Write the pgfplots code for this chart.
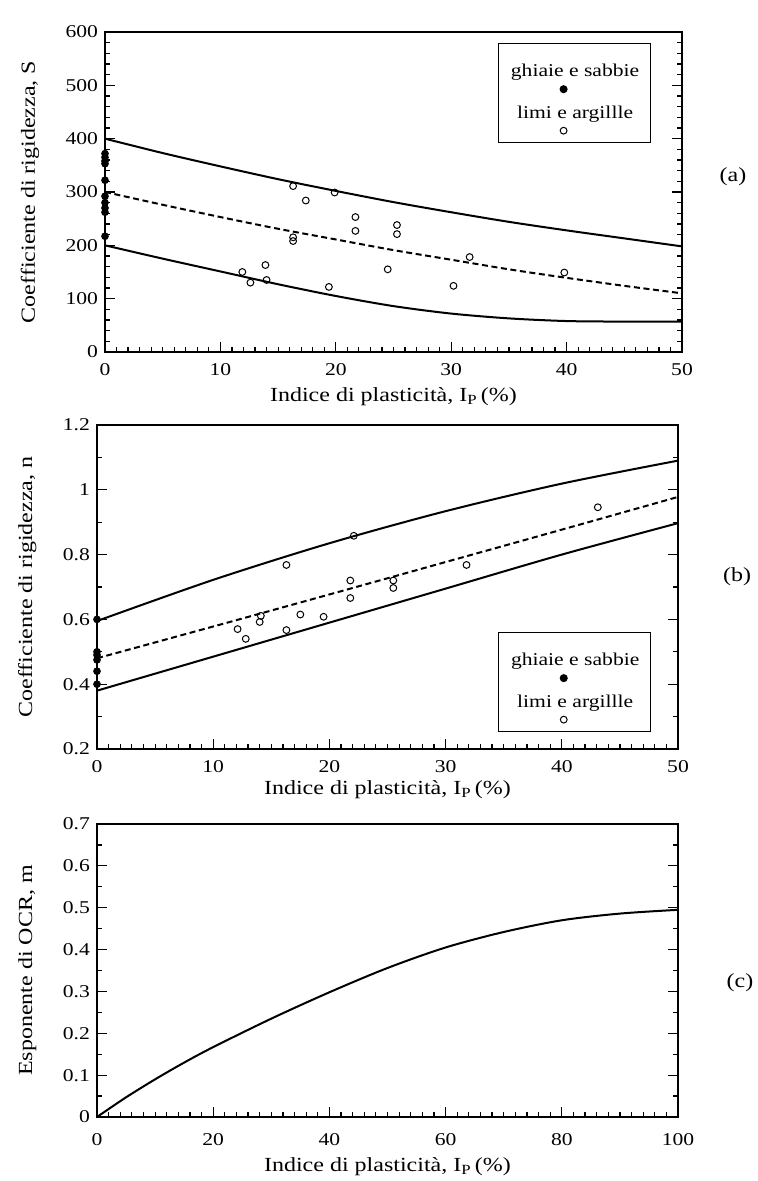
\documentclass[border=0pt]{standalone}
\usepackage{fontspec}
\setmainfont{Liberation Serif}[FakeStretch=1.2]
\usepackage{pgfplots}
\pgfplotsset{compat=1.18}

% one pixel of the reference = 0.5pt
\pgfplotsset{
  panel/.style={
    scale only axis, clip=false,
    axis line style={line width=0.9pt},
    tick align=inside, xtick pos=bottom, ytick pos=both,
    major tick length=5pt, minor tick length=2.5pt,
    every tick/.style={black, line width=0.6pt},
    /pgf/number format/assume math mode=true,
    tick label style={font=\fontsize{9}{10}\selectfont},
    label style={font=\fontsize{10}{12}\selectfont},
    xlabel={Indice di plasticità, I\textsubscript{P}\,(\%)},
    xticklabel style={yshift=-2pt},
    legend cell align=center,
    legend style={draw=black, line width=0.6pt,
      font=\fontsize{9}{11}\selectfont,
      row sep=9pt, inner ysep=8.5pt, inner xsep=3.5pt},
  },
  legmark/.style={legend image code/.code={%
      \path (0pt,0pt);
      \pgfmathsetmacro{\legx}{max(width("ghiaie e sabbie"),width("limi e argillle"))/2-7}%
      \draw[overlay,##1] plot coordinates {(\legx pt,-8.5pt)};}},
  curve/.style={black, line width=1pt, smooth, no marks},
  filled/.style={only marks, mark=*, mark size=1.7pt, black, legmark},
  hollow/.style={only marks, mark=o, mark size=1.7pt, black,
    mark options={line width=0.5pt}, legmark},
}

\begin{document}
\begin{tikzpicture}
\useasboundingbox (0,0) rectangle (378.5pt,590.5pt);

% ---------------- (a) S ----------------
\begin{axis}[panel,
  at={(52.5pt,414.5pt)}, anchor=south west,
  width=288.5pt, height=160pt,
  xmin=0, xmax=50, ymin=0, ymax=600,
  xtick={0,10,...,50}, ytick={0,100,...,600},
  minor x tick num=9, minor y tick num=4,
  ylabel={Coefficiente di rigidezza, S},
  xlabel style={at={(axis description cs:0.5,0)}, anchor=center, yshift=-22.5pt},
  ylabel style={at={(axis description cs:-0.13,0.5)}, anchor=center},
  legend style={at={(0.946,0.966)}, anchor=north east},
]
\addplot[filled] coordinates {
(0,372) (0,365) (0,358) (0,353) (0,322) (0,292) (0,280) (0,270) (0,262) (0,217)
};
\addlegendentry{ghiaie e sabbie}
\addplot[hollow] coordinates {
(16.3,311) (17.4,284) (19.9,299) (21.7,253) (21.7,227) (16.3,215) (16.3,208)
(11.9,150) (12.6,130) (13.9,163) (14.0,135) (19.4,122) (25.3,238) (25.3,221)
(24.5,155) (31.6,178) (30.2,124) (39.8,149)
};
\addlegendentry{limi e argillle}
\addplot[curve, forget plot] coordinates {
(0,400) (5,373) (10,348) (15,324) (20,302) (25,281) (30,262) (35,244) (40,228) (45,213) (50,198)
};
\addplot[curve, forget plot, dash pattern=on 3pt off 1.8pt] coordinates {
(0,300) (5,276) (10,253) (15,231) (20,211) (25,191) (30,173) (35,155) (40,139) (45,124) (50,110)
};
\addplot[curve, forget plot] coordinates {
(0,200) (5,175) (10,151) (15,127) (20,105) (25,86) (30,72) (35,63) (40,58) (45,57) (50,57)
};
\end{axis}

% ---------------- (b) n ----------------
\begin{axis}[panel,
  at={(48.5pt,216pt)}, anchor=south west,
  width=290.5pt, height=162pt,
  xmin=0, xmax=50, ymin=0.2, ymax=1.2,
  xtick={0,10,...,50}, ytick={0.2,0.4,0.6,0.8,1,1.2},
  minor x tick num=9, minor y tick num=1,
  ylabel={Coefficiente di rigidezza, n},
  xlabel style={at={(axis description cs:0.5,0)}, anchor=center, yshift=-20.5pt},
  ylabel style={at={(axis description cs:-0.12,0.5)}, anchor=center},
  legend style={at={(0.9535,0.0525)}, anchor=south east},
]
\addplot[filled] coordinates {
(0,0.60) (0,0.50) (0,0.49) (0,0.475) (0,0.44) (0,0.40)
};
\addlegendentry{ghiaie e sabbie}
\addplot[hollow] coordinates {
(12.1,0.570) (12.8,0.540) (14.0,0.592) (14.1,0.611) (16.3,0.768) (16.3,0.567)
(17.5,0.615) (19.5,0.608) (21.8,0.720) (21.8,0.666) (22.1,0.858) (25.5,0.720)
(25.5,0.697) (31.8,0.768) (43.1,0.946)
};
\addlegendentry{limi e argillle}
\addplot[curve, forget plot] coordinates {
(0,0.595) (10,0.722) (20,0.835) (30,0.934) (40,1.019) (50,1.09)
};
\addplot[curve, forget plot, dash pattern=on 3pt off 1.8pt] coordinates {
(0,0.48) (10,0.578) (20,0.677) (30,0.777) (40,0.877) (50,0.978)
};
\addplot[curve, forget plot] coordinates {
(0,0.38) (10,0.485) (20,0.59) (30,0.695) (40,0.80) (50,0.897)
};
\end{axis}

% ---------------- (c) m ----------------
\begin{axis}[panel,
  at={(48.5pt,32pt)}, anchor=south west,
  width=290.5pt, height=146.5pt,
  xmin=0, xmax=100, ymin=0, ymax=0.7,
  xtick={0,20,...,100}, ytick={0,0.1,...,0.7},
  minor x tick num=9, minor y tick num=1,
  ylabel={Esponente di OCR, m},
  xticklabel style={yshift=-2.5pt},
  xlabel style={at={(axis description cs:0.5,0)}, anchor=center, yshift=-25pt},
  ylabel style={at={(axis description cs:-0.12,0.5)}, anchor=center},
]
\addplot[curve] coordinates {
(0,0) (5,0.047) (10,0.09) (15,0.13) (20,0.167) (30,0.235) (40,0.298) (50,0.356)
(60,0.405) (70,0.442) (80,0.470) (90,0.486) (100,0.495)
};
\end{axis}

\node[font=\fontsize{10}{12}\selectfont] at (366.5pt,502pt) {(a)};
\node[font=\fontsize{10}{12}\selectfont] at (368.5pt,302pt) {(b)};
\node[font=\fontsize{10}{12}\selectfont] at (370pt,99pt) {(c)};
\end{tikzpicture}
\end{document}
